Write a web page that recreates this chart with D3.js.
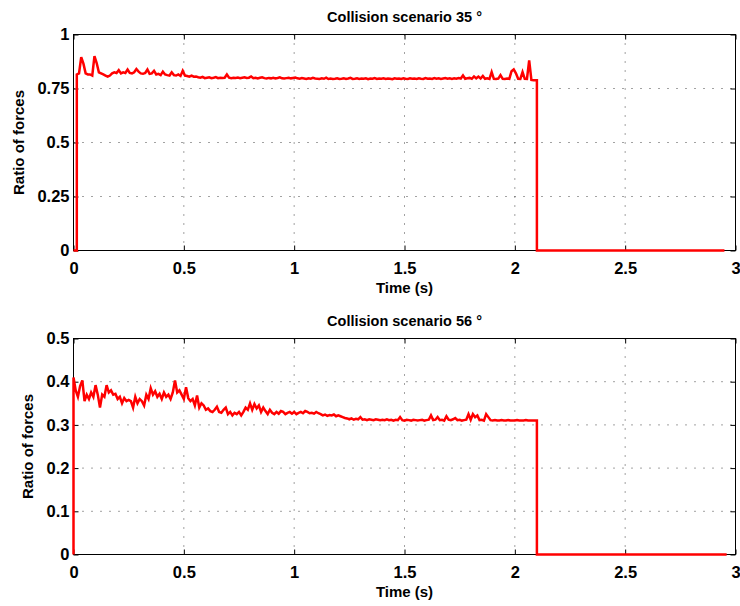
<!DOCTYPE html>
<meta charset="utf-8">
<head>
<style>
body { margin: 0; background: #fff; }
svg text { font-family: "Liberation Sans", Arial, sans-serif; font-weight: bold; fill: #000; }
</style>
</head>
<script src="https://d3js.org/d3.v7.min.js"></script>

<div id="chart"></div>

<script>
var dt = 0.01;

// scenario 35 deg: samples start at t = 0.015
var titles = ["Collision scenario 35 °", "Collision scenario 56 °"];
var rise35 = 0.015, drop35 = 2.1, stop35 = 2.95;
var ratio35 = [
  0.815, 0.82, 0.895, 0.865, 0.82, 0.815, 0.815, 0.81, 0.90, 0.868,
  0.825, 0.82, 0.815, 0.81, 0.805, 0.81, 0.82, 0.825, 0.822, 0.835,
  0.82, 0.825, 0.822, 0.838, 0.822, 0.82, 0.825, 0.84, 0.828, 0.82,
  0.818, 0.822, 0.838, 0.818, 0.82, 0.832, 0.815, 0.818, 0.812, 0.828,
  0.815, 0.812, 0.81, 0.825, 0.812, 0.81, 0.815, 0.808, 0.832, 0.81,
  0.808, 0.805, 0.81, 0.805, 0.806, 0.802, 0.8, 0.804, 0.798, 0.8,
  0.802, 0.798, 0.8, 0.803, 0.798, 0.8, 0.799, 0.8, 0.815, 0.8,
  0.798, 0.8, 0.799, 0.801, 0.798, 0.8, 0.802, 0.799, 0.8, 0.806,
  0.798, 0.8, 0.797, 0.8, 0.802, 0.798, 0.796, 0.799, 0.797, 0.8,
  0.797, 0.799, 0.802, 0.797, 0.796, 0.798, 0.8, 0.797, 0.799, 0.801,
  0.797, 0.795, 0.798, 0.796, 0.794, 0.797, 0.795, 0.799, 0.796, 0.795,
  0.794, 0.797, 0.795, 0.8, 0.794, 0.796, 0.794, 0.795, 0.797, 0.794,
  0.795, 0.797, 0.794, 0.796, 0.799, 0.794, 0.795, 0.797, 0.794, 0.796,
  0.795, 0.797, 0.793, 0.796, 0.795, 0.798, 0.794, 0.796, 0.795, 0.797,
  0.794, 0.796, 0.795, 0.793, 0.797, 0.795, 0.796, 0.794, 0.797, 0.795,
  0.794, 0.797, 0.795, 0.796, 0.794, 0.797, 0.795, 0.794, 0.798, 0.795,
  0.796, 0.794, 0.798, 0.795, 0.797, 0.794, 0.796, 0.798, 0.795, 0.797,
  0.794, 0.797, 0.795, 0.798, 0.796, 0.81, 0.795, 0.797, 0.799, 0.795,
  0.806, 0.797, 0.805, 0.796, 0.808, 0.795, 0.797, 0.794, 0.826, 0.795,
  0.794, 0.796, 0.812, 0.795, 0.794, 0.796, 0.795, 0.83, 0.838, 0.82,
  0.795, 0.794, 0.826, 0.795, 0.794, 0.88, 0.79, 0.788, 0.788
];

// scenario 56 deg: samples start at t = 0
var rise56 = 0, drop56 = 2.1, stop56 = 2.96;
var ratio56 = [
  0.41, 0.38, 0.365, 0.39, 0.403, 0.355, 0.37, 0.36, 0.375, 0.365,
  0.392, 0.37, 0.34, 0.37, 0.365, 0.392, 0.375, 0.38, 0.37, 0.372,
  0.36, 0.365, 0.35, 0.362, 0.355, 0.358, 0.355, 0.34, 0.365, 0.35,
  0.36, 0.355, 0.345, 0.37, 0.36, 0.385, 0.37, 0.378, 0.365, 0.372,
  0.36, 0.375, 0.365, 0.37, 0.36, 0.375, 0.403, 0.375, 0.38, 0.37,
  0.36, 0.387, 0.362, 0.355, 0.36, 0.345, 0.368, 0.34, 0.35, 0.345,
  0.335, 0.338, 0.332, 0.33, 0.335, 0.342, 0.33, 0.328, 0.335, 0.34,
  0.325, 0.33, 0.322, 0.328, 0.325, 0.33, 0.322, 0.33, 0.34, 0.335,
  0.35, 0.335, 0.348, 0.338, 0.345, 0.33, 0.34, 0.332, 0.325, 0.335,
  0.328, 0.325, 0.33, 0.326, 0.332, 0.33, 0.325, 0.328, 0.33, 0.326,
  0.33, 0.325, 0.328, 0.33, 0.327, 0.332, 0.33, 0.327, 0.328, 0.326,
  0.33, 0.327, 0.325, 0.322, 0.324, 0.321, 0.323, 0.322, 0.324, 0.32,
  0.322, 0.32, 0.318, 0.316, 0.315, 0.313, 0.315, 0.312, 0.314, 0.313,
  0.318, 0.312, 0.313, 0.311, 0.313, 0.312, 0.311, 0.313, 0.312, 0.311,
  0.312, 0.311, 0.313, 0.311, 0.312, 0.31, 0.312, 0.311, 0.318, 0.311,
  0.31, 0.312, 0.311, 0.31, 0.312, 0.311, 0.31, 0.311, 0.312, 0.31,
  0.311, 0.312, 0.322, 0.311, 0.312, 0.318, 0.311, 0.312, 0.31, 0.32,
  0.312, 0.311, 0.313, 0.316, 0.311, 0.312, 0.31, 0.311, 0.312, 0.325,
  0.312, 0.325, 0.318, 0.322, 0.311, 0.312, 0.31, 0.325, 0.318, 0.311,
  0.31, 0.311, 0.31, 0.31, 0.311, 0.31, 0.31, 0.311, 0.31, 0.31,
  0.31, 0.311, 0.31, 0.31, 0.31, 0.311, 0.31, 0.31, 0.31, 0.31
];

var xTicks = [0, 0.5, 1, 1.5, 2, 2.5, 3];
var yTicks35 = [0, 0.25, 0.5, 0.75, 1];
var yTicks56 = [0, 0.1, 0.2, 0.3, 0.4, 0.5];

// turn samples into a path: flat zero, rise, samples, drop, flat zero
function trace(vals, rise, drop, stop) {
  var pts = [[0, 0], [rise, 0]];
  vals.forEach(function(v, i) { pts.push([rise + i * dt, v]); });
  pts.push([drop, vals[vals.length - 1]]);
  pts.push([drop, 0]);
  pts.push([stop, 0]);
  return pts;
}

var W = 740, H = 606;
var left = 73.5, width = 662, height = 216;

var svg = d3.select("#chart").append("svg")
  .attr("width", W).attr("height", H);

var x = d3.scaleLinear().domain([0, 3]).range([0, width]);

var panels = [
  { top: 34.5, title: titles[0], ymax: 1, yTicks: yTicks35, pts: trace(ratio35, rise35, drop35, stop35), ylabX: 19 },
  { top: 338.5, title: titles[1], ymax: 0.5, yTicks: yTicks56, pts: trace(ratio56, rise56, drop56, stop56), ylabX: 28 }
];

panels.forEach(function(p) {
  var g = svg.append("g").attr("transform", "translate(" + left + "," + p.top + ")");
  var y = d3.scaleLinear().domain([0, p.ymax]).range([height, 0]);

  // dotted grid
  g.append("g").selectAll("line.vx")
    .data(xTicks.slice(1, -1)).enter().append("line")
      .attr("x1", function(d) { return x(d); }).attr("x2", function(d) { return x(d); })
      .attr("y1", 0).attr("y2", height)
      .attr("stroke", "#444").attr("stroke-dasharray", "1,8");
  g.append("g").selectAll("line.hy")
    .data(p.yTicks.slice(1, -1)).enter().append("line")
      .attr("x1", 0).attr("x2", width)
      .attr("y1", function(d) { return y(d); }).attr("y2", function(d) { return y(d); })
      .attr("stroke", "#444").attr("stroke-dasharray", "1,8");

  var fmt = function(d) { return String(d); };

  // axes, ticks pointing inwards on all four sides
  var ax = g.append("g").attr("transform", "translate(0," + height + ")")
    .call(d3.axisBottom(x).tickValues(xTicks).tickFormat(fmt).tickSizeInner(-5).tickSizeOuter(0).tickPadding(12));
  g.append("g").call(d3.axisTop(x).tickValues(xTicks).tickFormat("").tickSizeInner(-5).tickSizeOuter(0));
  var ay = g.append("g")
    .call(d3.axisLeft(y).tickValues(p.yTicks).tickFormat(fmt).tickSizeInner(-5).tickSizeOuter(0).tickPadding(4));
  g.append("g").attr("transform", "translate(" + width + ",0)")
    .call(d3.axisRight(y).tickValues(p.yTicks).tickFormat("").tickSizeInner(-5).tickSizeOuter(0));
  g.selectAll(".domain").remove();
  g.selectAll(".tick line").attr("stroke", "#000");
  ax.selectAll("text").style("font-size", "16.5px");
  ay.selectAll("text").style("font-size", "16.5px");

  // box (under the trace, the trace runs along the bottom edge)
  g.append("rect")
    .attr("width", width).attr("height", height)
    .attr("fill", "none").attr("stroke", "#000").attr("stroke-width", 1);

  // data line
  g.append("path")
    .datum(p.pts)
    .attr("fill", "none")
    .attr("stroke", "#ff0000")
    .attr("stroke-width", 2.5)
    .attr("stroke-linejoin", "miter")
    .attr("d", d3.line().x(function(d) { return x(d[0]); }).y(function(d) { return y(d[1]); }));

  // title and labels
  g.append("text")
    .attr("x", width / 2).attr("y", -12.5)
    .attr("text-anchor", "middle")
    .style("font-size", "14.5px")
    .text(p.title);
  g.append("text")
    .attr("x", width / 2).attr("y", height + 42)
    .attr("text-anchor", "middle")
    .style("font-size", "15px")
    .text("Time (s)");
  svg.append("text")
    .attr("transform", "translate(" + p.ylabX + "," + (p.top + height / 2) + ") rotate(-90)")
    .attr("text-anchor", "middle")
    .attr("dy", "0.35em")
    .style("font-size", "15px")
    .text("Ratio of forces");
});
</script>
